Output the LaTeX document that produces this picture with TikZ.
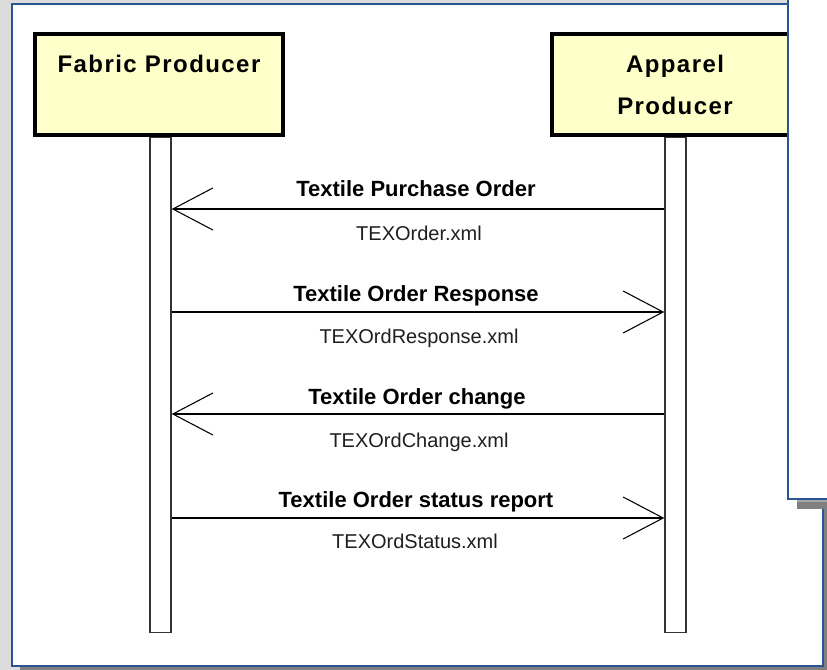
\documentclass[tikz,border=0pt]{standalone}
\usepackage{fontspec}
\setmainfont{Liberation Sans}
\newfontfamily\boxfont[LetterSpace=6]{Liberation Sans}
\usetikzlibrary{arrows.meta}
\definecolor{panelblue}{HTML}{2B5592}
\definecolor{bggray}{HTML}{DCDCDC}
\definecolor{shadowgray}{HTML}{808080}
\definecolor{actorfill}{HTML}{FFFFCA}
\definecolor{lifegray}{HTML}{333333}
\tikzset{
  actorbox/.style={draw=black, line width=3pt, fill=actorfill, inner sep=0pt,
    minimum width=186pt, minimum height=75.75pt},
  actorlabel/.style={font=\boxfont\bfseries\fontsize{18}{20}\selectfont, inner sep=0pt, anchor=base},
  lifebar/.style={draw=lifegray, line width=1.1pt, fill=white, inner sep=0pt,
    minimum width=15.75pt, minimum height=371.25pt},
  msgline/.style={draw=black, line width=1pt,
    -{Straight Barb[length=30pt, width=31.5pt, line width=0.8pt]}},
  msgtitle/.style={font=\bfseries\fontsize{16.5}{18}\selectfont, inner sep=0pt, anchor=base},
  msgfile/.style={font=\fontsize{15}{17}\selectfont, text=black!88, inner sep=0pt, anchor=base}
}
\begin{document}
\begin{tikzpicture}[x=0.75pt,y=-0.75pt]
\useasboundingbox (0,0) rectangle (827,670);
\clip (0,0) rectangle (827,670);
% background and main panel
\fill[bggray] (0,0) rectangle (827,670);
\fill[shadowgray] (20,666) rectangle (830,672);
\fill[shadowgray] (823,10) rectangle (830,672);
\draw[panelblue, line width=1.5pt, fill=white] (12,4) rectangle (823,666);
% actors
\node[actorbox] (fabric) at (159,84.5) {};
\node[actorbox] (apparel) at (676,84.5) {};
\node[actorlabel] (fabriclbl) at (159,73) {Fabric Producer};
\node[actorlabel] (apparellblA) at (675,73) {Apparel};
\node[actorlabel] (apparellblB) at (675,115) {Producer};
% lifelines
\node[lifebar, anchor=north] (flife) at (160.5,137) {};
\node[lifebar, anchor=north] (alife) at (675.5,137) {};
% messages
\coordinate (m1) at (418,209);
\coordinate (m2) at (418,312);
\coordinate (m3) at (418,414);
\coordinate (m4) at (418,518);
\draw[msgline] (alife.west |- m1) -- (flife.east |- m1);
\draw[msgline] (flife.east |- m2) -- (alife.west |- m2);
\draw[msgline] (alife.west |- m3) -- (flife.east |- m3);
\draw[msgline] (flife.east |- m4) -- (alife.west |- m4);
\node[msgtitle] (t1) at (416,197) {Textile Purchase Order};
\node[msgfile] (f1) at (419,240) {TEXOrder.xml};
\node[msgtitle] (t2) at (416,301) {Textile Order Response};
\node[msgfile] (f2) at (419,343) {TEXOrdResponse.xml};
\node[msgtitle] (t3) at (417,404) {Textile Order change};
\node[msgfile] (f3) at (419,447) {TEXOrdChange.xml};
\node[msgtitle] (t4) at (416,507) {Textile Order status report};
\node[msgfile] (f4) at (415,548) {TEXOrdStatus.xml};
% overlapping window at top right
\fill[shadowgray] (797,499) rectangle (830,509);
\fill[black!35] (797,499) rectangle (830,501.5);
\fill[white] (788,-5) rectangle (830,499);
\draw[panelblue, line width=1.5pt] (788,-5) -- (788,499) -- (830,499);
\end{tikzpicture}
\end{document}
